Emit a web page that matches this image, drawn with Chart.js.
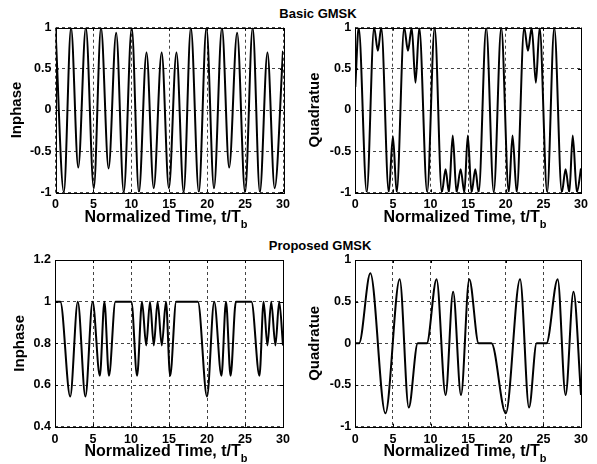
<!DOCTYPE html>
<html><head><meta charset="utf-8">
<script src="https://cdn.jsdelivr.net/npm/chart.js@4.4.1/dist/chart.umd.min.js"></script>
<style>
html,body{margin:0;padding:0;background:#fff;}
body{width:597px;height:464px;position:relative;overflow:hidden;font-family:"Liberation Sans",Arial,sans-serif;color:#000;}
canvas{position:absolute;}
.sup{position:absolute;font-weight:bold;font-size:13px;line-height:13px;white-space:nowrap;transform:translateX(-50%);}
.xt{position:absolute;font-weight:bold;font-size:16px;line-height:16px;white-space:nowrap;transform:translateX(-50%);}
.xt span{font-size:11px;position:relative;top:6px;}
</style></head><body>
<div class="sup" style="left:318px;top:6.5px">Basic GMSK</div>
<div class="sup" style="left:320px;top:239.3px">Proposed GMSK</div>
<canvas id="c1" width="298" height="232" style="left:0;top:0"></canvas>
<canvas id="c2" width="298" height="232" style="left:299px;top:0"></canvas>
<canvas id="c3" width="298" height="232" style="left:0;top:232px"></canvas>
<canvas id="c4" width="298" height="232" style="left:299px;top:232px"></canvas>
<div class="xt" style="left:166px;top:209px">Normalized Time, t/T<span>b</span></div>
<div class="xt" style="left:465px;top:209px">Normalized Time, t/T<span>b</span></div>
<div class="xt" style="left:166px;top:443.4px">Normalized Time, t/T<span>b</span></div>
<div class="xt" style="left:465px;top:443.4px">Normalized Time, t/T<span>b</span></div>
<script>
// ---- data ----
const xTicks = [0, 5, 10, 15, 20, 25, 30];
const xTickLabels = ['0', '5', '10', '15', '20', '25', '30'];
const yTicksUnit = [-1, -0.5, 0, 0.5, 1];
const yTickLabelsUnit = ['-1', '-0.5', '0', '0.5', '1'];
const yTicksPropI = [0.4, 0.6, 0.8, 1, 1.2];
const yTickLabelsPropI = ['0.4', '0.6', '0.8', '1', '1.2'];

// Basic GMSK - Inphase
const basicITime = [0, 1.1, 2.05, 3.0, 4.0, 5.05, 6.0, 7.0, 8.0, 9.0, 10.05, 11.0, 12.0, 12.95, 14.0, 14.95, 15.95, 16.9, 17.85, 18.9, 19.9, 20.9, 21.95, 22.9, 23.95, 25.0, 26.0, 26.95, 27.95, 28.9, 30];
const basicI     = [0.97, -1, 1, -0.7, 1, -0.95, 1, -0.71, 0.94, -1, 1, -1, 0.7, -0.95, 0.7, -0.95, 0.7, -1, 1, -1, 1, -0.95, 1, -0.7, 0.94, -1, 1, -1, 0.7, -0.95, 0.72];
// Basic GMSK - Quadrature
const basicQTime = [0, 0.45, 1.52, 2.5, 3.0, 3.45, 4.45, 5.0, 5.5, 6.5, 7.0, 7.5, 8.0, 8.5, 9.55, 10.55, 11.5, 12.0, 12.45, 12.95, 13.45, 14.0, 14.5, 14.95, 15.45, 15.95, 16.4, 17.4, 18.4, 19.4, 20.4, 20.9, 21.45, 22.45, 22.95, 23.45, 24.0, 24.5, 25.5, 26.45, 27.45, 27.95, 28.45, 28.9, 29.45, 30];
const basicQ     = [0.28, 1, -1, 1, 0.72, 1, -1, -0.32, -1, 1, 0.72, 1, 0.33, 1, -1, 1, -1, -0.72, -1, -0.31, -1, -0.72, -1, -0.31, -1, -0.72, -1, 1, -1, 1, -1, -0.31, -1, 1, 0.72, 1, 0.33, 1, -1, 1, -1, -0.72, -1, -0.31, -1, -0.71];
// Proposed GMSK - Inphase
const propITime = [0, 0.7, 2.0, 3.0, 4.0, 4.95, 5.9, 6.5, 7.1, 7.95, 10.05, 10.8, 11.45, 12.0, 12.5, 13.0, 13.5, 14.05, 14.6, 15.15, 15.95, 18.8, 20.0, 20.95, 21.9, 22.5, 23.1, 23.8, 25.85, 26.9, 27.45, 27.95, 28.45, 29.0, 29.5, 30];
const propI     = [1, 1, 0.545, 1, 0.545, 1, 0.645, 1, 0.645, 1, 1, 0.645, 1, 0.79, 1, 0.79, 1, 0.79, 1, 0.645, 1, 1, 0.545, 1, 0.645, 1, 0.645, 1, 1, 0.645, 1, 0.79, 1, 0.79, 1, 0.79];
// Proposed GMSK - Quadrature
const propQTime = [0, 0.5, 2.0, 4.0, 5.9, 7.1, 8.3, 9.5, 10.8, 12.0, 13.0, 14.05, 15.15, 16.4, 18.1, 20.0, 21.9, 23.1, 24.1, 25.4, 26.9, 27.95, 29.0, 30];
const propQ     = [0, 0, 0.84, -0.84, 0.77, -0.77, 0, 0, 0.77, -0.62, 0.62, -0.62, 0.77, 0, 0, -0.84, 0.77, -0.77, 0, 0, 0.77, -0.62, 0.62, -0.62];

const FONT = '"Liberation Sans", Arial, sans-serif';

const boxPlugin = {
  id: 'box',
  afterDraw(chart) {
    const {ctx, chartArea: {left, right, top, bottom}} = chart;
    const xs = chart.scales.x, ys = chart.scales.y;
    ctx.save();
    ctx.strokeStyle = '#000';
    ctx.lineWidth = 1;
    ctx.setLineDash([]);
    ctx.beginPath();
    xs.ticks.forEach(t => {
      const p = Math.round(xs.getPixelForValue(t.value)) + 0.5;
      ctx.moveTo(p, bottom); ctx.lineTo(p, bottom - 3);
      ctx.moveTo(p, top); ctx.lineTo(p, top + 3);
    });
    ys.ticks.forEach(t => {
      const p = Math.round(ys.getPixelForValue(t.value)) + 0.5;
      ctx.moveTo(left, p); ctx.lineTo(left + 3, p);
      ctx.moveTo(right, p); ctx.lineTo(right - 3, p);
    });
    ctx.stroke();
    ctx.strokeRect(Math.round(left) + 0.5, Math.round(top) + 0.5, Math.round(right - left), Math.round(bottom - top));
    ctx.restore();
  }
};

function makeChart(id, g) {
  const pts = g.t.map((t, i) => ({x: t, y: g.v[i]}));
  return new Chart(document.getElementById(id), {
    type: 'line',
    data: {datasets: [{
      data: pts, borderColor: '#000', borderWidth: 2, pointRadius: 0,
      cubicInterpolationMode: 'monotone', fill: false
    }]},
    options: {
      responsive: false, animation: false, devicePixelRatio: 1,
      layout: {padding: {left: 0, top: g.padTop, right: g.padRight, bottom: 0}},
      plugins: {legend: {display: false}, tooltip: {enabled: false}},
      scales: {
        x: {
          type: 'linear', min: 0, max: 30,
          afterFit: s => { s.height = g.xH; },
          afterBuildTicks: s => { s.ticks = xTicks.map(v => ({value: v})); },
          ticks: {
            callback: (v, i) => xTickLabels[i],
            padding: 5, color: '#000', maxRotation: 0, autoSkip: false,
            font: {family: FONT, size: 12.5, weight: 'bold'}
          },
          grid: {color: '#444', lineWidth: 1, drawTicks: false},
          border: {display: false, dash: [3, 3]}
        },
        y: {
          type: 'linear', min: g.yTicks[0], max: g.yTicks[g.yTicks.length - 1],
          afterFit: s => { s.width = g.yW; },
          afterBuildTicks: s => { s.ticks = g.yTicks.map(v => ({value: v})); },
          ticks: {
            callback: (v, i) => g.yLabels[i],
            padding: 4, color: '#000', autoSkip: false,
            font: {family: FONT, size: 12.5, weight: 'bold'}
          },
          grid: {color: '#444', lineWidth: 1, drawTicks: false},
          border: {display: false, dash: [3, 3]},
          title: {
            display: true, text: g.yTitle, color: '#000',
            font: {family: FONT, size: 15, weight: 'bold'},
            padding: {top: g.titlePad, bottom: 0}
          }
        }
      }
    },
    plugins: [boxPlugin]
  });
}

makeChart('c1', {t: basicITime, v: basicI, padTop: 27.7, padRight: 15, yW: 55.5, xH: 39.7,
  yTicks: yTicksUnit, yLabels: yTickLabelsUnit, yTitle: 'Inphase', titlePad: 8});
makeChart('c2', {t: basicQTime, v: basicQ, padTop: 27.7, padRight: 16, yW: 56.3, xH: 39.7,
  yTicks: yTicksUnit, yLabels: yTickLabelsUnit, yTitle: 'Quadratue', titlePad: 7});
makeChart('c3', {t: propITime, v: propI, padTop: 28, padRight: 15, yW: 55, xH: 37.3,
  yTicks: yTicksPropI, yLabels: yTickLabelsPropI, yTitle: 'Inphase', titlePad: 10.5});
makeChart('c4', {t: propQTime, v: propQ, padTop: 28, padRight: 16, yW: 56.3, xH: 37.3,
  yTicks: yTicksUnit, yLabels: yTickLabelsUnit, yTitle: 'Quadratue', titlePad: 6.5});
</script>
</body></html>
